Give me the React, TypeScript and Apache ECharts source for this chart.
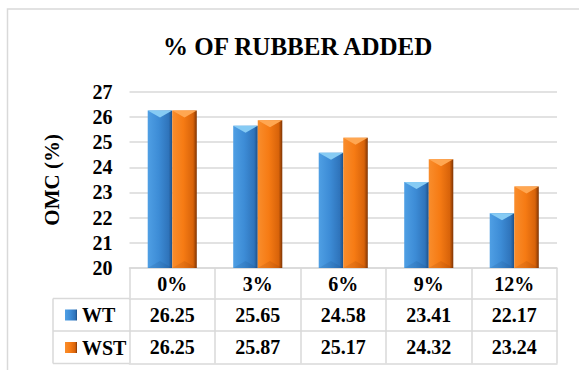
import React, { useEffect, useRef } from "react";
import * as echarts from "echarts";

const categories = ["0%", "3%", "6%", "9%", "12%"];
const wtValues = [26.25, 25.65, 24.58, 23.41, 22.17];
const wstValues = [26.25, 25.87, 25.17, 24.32, 23.24];
const seriesNames = ["WT", "WST"];
const yMin = 20;
const yMax = 27;
const yInterval = 1;

const FONT = "Liberation Serif";
const LINE = "#d9d9d9";

const GRID_LEFT = 129.5;
const GRID_RIGHT_X = 557;
const GRID_TOP = 91.7;
const GRID_BOTTOM_Y = 268;
const ROW1 = 298.5;
const ROW2 = 331;
const ROW3 = 363.5;
const LEG_LEFT = 53;

const palettes = [
  {
    body: [
      [0, "#4f9fe4"],
      [0.45, "#3d8cd6"],
      [0.85, "#2f74bb"],
      [1, "#1d4f86"],
    ],
    top: "#86cbf4",
    bottom: "rgba(20,60,110,0.12)",
  },
  {
    body: [
      [0, "#f98d2c"],
      [0.45, "#f67b14"],
      [0.85, "#d8630a"],
      [1, "#7e3404"],
    ],
    top: "#ffa752",
    bottom: "rgba(110,45,5,0.12)",
  },
];

function grad(stops: any[]) {
  return new echarts.graphic.LinearGradient(
    0,
    0,
    1,
    0,
    stops.map((s) => ({ offset: s[0], color: s[1] }))
  );
}

function makeRender(s: number) {
  return (params: any, api: any) => {
    const idx = api.value(0);
    const v = api.value(1);
    const top = api.coord([idx, v]);
    const base = api.coord([idx, yMin]);
    const catW = api.size([1, 0])[0];
    const w = catW * 0.287;
    const x = s === 0 ? top[0] - w : top[0];
    const y = top[1];
    const h = base[1] - top[1];
    const th = 7;
    const p = palettes[s];
    return {
      type: "group",
      children: [
        {
          type: "rect",
          shape: { x, y, width: w, height: h },
          style: { fill: grad(p.body) },
        },
        {
          type: "polygon",
          shape: { points: [[x, y], [x + w, y], [x + w / 2, y + th]] },
          style: { fill: p.top },
        },
        {
          type: "polygon",
          shape: { points: [[x, base[1]], [x + w, base[1]], [x + w / 2, base[1] - th]] },
          style: { fill: p.bottom },
        },
      ],
    };
  };
}

export default function App() {
  const ref = useRef<HTMLDivElement>(null);
  useEffect(() => {
    if (!ref.current) return;
    const chart = echarts.init(ref.current, null, { renderer: "svg" });
    const labelStyle = { fontFamily: FONT, fontWeight: "bold", fontSize: 20, color: "#000" };
    const tableAxis = (data: string[], offset: number, tickLen: number, showLabel = true) => ({
      type: "category",
      position: "bottom",
      offset,
      data,
      axisLine: { show: true, lineStyle: { color: LINE, width: 1.5 } },
      axisTick: { show: tickLen > 0, interval: 0, length: tickLen, lineStyle: { color: LINE, width: 1.5 } },
      axisLabel: { show: showLabel, interval: 0, margin: 6, ...labelStyle },
      splitLine: { show: false },
    });
    chart.setOption({
      animation: false,
      backgroundColor: "#fff",
      title: {
        text: "% OF RUBBER ADDED",
        left: 158,
        top: 29,
        textStyle: { fontFamily: FONT, fontWeight: "bold", fontSize: 25, color: "#000" },
      },
      legend: {
        orient: "vertical",
        left: 60,
        top: 300,
        itemWidth: 12,
        itemHeight: 11,
        itemGap: 12.5,
        icon: "rect",
        selectedMode: false,
        textStyle: { ...labelStyle },
        data: seriesNames.map((n, i) => ({ name: n, itemStyle: { color: grad(palettes[i].body) } })),
      },
      grid: {
        left: GRID_LEFT,
        right: 579 - GRID_RIGHT_X,
        top: GRID_TOP,
        bottom: 370 - GRID_BOTTOM_Y,
      },
      xAxis: [
        tableAxis(categories, 0, ROW1 - GRID_BOTTOM_Y),
        tableAxis(wtValues.map((v) => v.toFixed(2)), ROW1 - GRID_BOTTOM_Y, ROW2 - ROW1),
        tableAxis(wstValues.map((v) => v.toFixed(2)), ROW2 - GRID_BOTTOM_Y, ROW3 - ROW2),
        tableAxis(categories.map(() => ""), ROW3 - GRID_BOTTOM_Y, 0, false),
      ],
      yAxis: {
        type: "value",
        min: yMin,
        max: yMax,
        interval: yInterval,
        name: "OMC (%)",
        nameLocation: "middle",
        nameGap: 67,
        nameRotate: 90,
        nameTextStyle: { fontFamily: FONT, fontWeight: "bold", fontSize: 21, color: "#000" },
        axisLine: { show: false },
        axisTick: { show: false },
        axisLabel: { margin: 17, ...labelStyle },
        splitLine: { lineStyle: { color: LINE, width: 1.5 } },
      },
      graphic: [
        {
          type: "rect",
          z: -10,
          shape: { x: 7.5, y: 9, width: 620, height: 420 },
          style: { fill: "none", stroke: LINE, lineWidth: 1.5 },
        },
        ...[ROW1, ROW2, ROW3].map((y) => ({
          type: "line",
          shape: { x1: LEG_LEFT, y1: y, x2: GRID_LEFT, y2: y },
          style: { stroke: LINE, lineWidth: 1.5 },
        })),
        {
          type: "line",
          shape: { x1: LEG_LEFT, y1: ROW1, x2: LEG_LEFT, y2: ROW3 },
          style: { stroke: LINE, lineWidth: 1.5 },
        },
      ],
      series: [wtValues, wstValues].map((vals, s) => ({
        type: "custom",
        name: seriesNames[s],
        xAxisIndex: 0,
        yAxisIndex: 0,
        itemStyle: { color: s === 0 ? "#3d8cd6" : "#f67b14" },
        data: vals.map((v, i) => [i, v]),
        encode: { x: 0, y: 1 },
        renderItem: makeRender(s),
      })),
    });
    return () => chart.dispose();
  }, []);
  return (
    <div
      ref={ref}
      style={{ position: "fixed", left: 0, top: 0, width: 579, height: 370 }}
    />
  );
}
